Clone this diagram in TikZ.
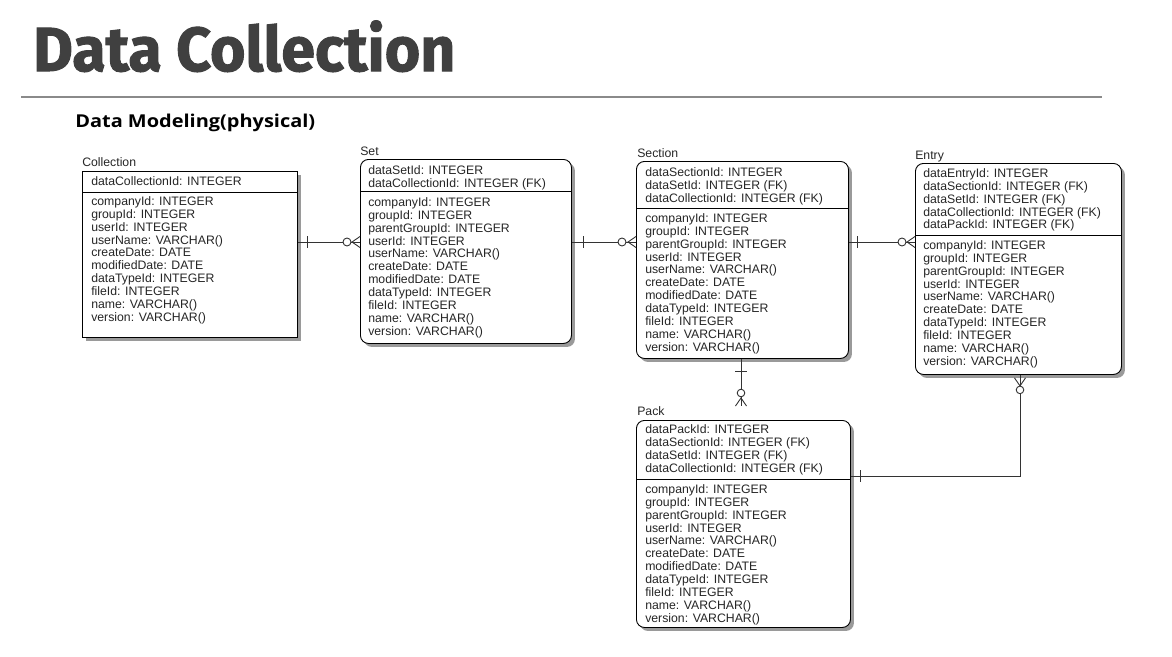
\documentclass[tikz,border=0pt]{standalone}
\usepackage{graphicx}
\usepackage{fontspec}
\setmainfont{Liberation Sans}
\newfontfamily\titlefont{Fira Sans}[BoldFeatures={FakeBold=1.6}]
\newfontfamily\subfont{Open Sans}
\usetikzlibrary{shadows,calc}
\newlength\pxu \setlength\pxu{0.75pt}
\definecolor{titlegray}{HTML}{404040}
\definecolor{rulegray}{HTML}{8A8A8A}
\definecolor{shadowgray}{HTML}{9A9A9A}
\tikzset{
  tbl/.style={draw=black, line width=0.9\pxu, fill=white, anchor=north west, inner sep=0pt,
    drop shadow={shadow xshift=3.5\pxu, shadow yshift=-3.5\pxu, fill=shadowgray, opacity=1}},
  rtbl/.style={tbl, rounded corners=8\pxu},
  row/.style={anchor=base west, inner sep=0pt, font=\fontsize{9.2}{9.7}\selectfont, text=black!85},
  conn/.style={line width=0.9\pxu, draw=black!80},
  sepline/.style={line width=0.9\pxu, draw=black},
}
\newcommand\rows[4]{\foreach \t [count=\i from 0] in {#4} \node[row] (#1-\i) at (#2,#3+12.85*\i) {\t};}
\begin{document}
\begin{tikzpicture}[x=0.75pt,y=-0.75pt]
\useasboundingbox (0,0) rectangle (1172,657);
% titles
\node[anchor=base west, inner sep=0pt, text=titlegray] (title) at (33,71)
  {\resizebox{422\pxu}{50.5\pxu}{\titlefont\bfseries Data Collection}};
\coordinate (rl) at (21,97);
\coordinate (rr) at (1102,97);
\draw[rulegray, line width=2\pxu] (rl) -- (rr);
\node[anchor=base west, inner sep=0pt, text=black] (sub) at (75,127.5)
  {\resizebox{240\pxu}{\height}{\subfont\bfseries\fontsize{13.3}{15}\selectfont Data Modeling(physical)}};

% Collection
\node[row] (lcoll) at (82,166) {Collection};
\node[tbl, minimum width=215\pxu, minimum height=166\pxu] (coll) at (82,171) {};
\draw[sepline] (coll.west |- 0,192) -- (coll.east |- 0,192);
\rows{ch}{91}{185.5}{dataCollectionId: INTEGER}
\rows{cb}{91}{205.5}{companyId: INTEGER,groupId: INTEGER,userId: INTEGER,userName: VARCHAR(),createDate: DATE,modifiedDate: DATE,dataTypeId: INTEGER,fileId: INTEGER,name: VARCHAR(),version: VARCHAR()}

% Set
\node[row] (lset) at (360,155) {Set};
\node[rtbl, minimum width=211\pxu, minimum height=184\pxu] (set) at (360,159) {};
\draw[sepline] (set.west |- 0,191) -- (set.east |- 0,191);
\rows{sh}{368}{174.5}{dataSetId: INTEGER,dataCollectionId: INTEGER (FK)}
\rows{sb}{368}{206.5}{companyId: INTEGER,groupId: INTEGER,parentGroupId: INTEGER,userId: INTEGER,userName: VARCHAR(),createDate: DATE,modifiedDate: DATE,dataTypeId: INTEGER,fileId: INTEGER,name: VARCHAR(),version: VARCHAR()}

% Section
\node[row] (lsec) at (637,157) {Section};
\node[rtbl, minimum width=212\pxu, minimum height=197\pxu] (sec) at (636,161) {};
\draw[sepline] (sec.west |- 0,208) -- (sec.east |- 0,208);
\rows{sch}{645}{176.5}{dataSectionId: INTEGER,dataSetId: INTEGER (FK),dataCollectionId: INTEGER (FK)}
\rows{scb}{645}{222.5}{companyId: INTEGER,groupId: INTEGER,parentGroupId: INTEGER,userId: INTEGER,userName: VARCHAR(),createDate: DATE,modifiedDate: DATE,dataTypeId: INTEGER,fileId: INTEGER,name: VARCHAR(),version: VARCHAR()}

% Entry
\node[row] (lent) at (915,159) {Entry};
\node[rtbl, minimum width=206\pxu, minimum height=211\pxu] (ent) at (915,163) {};
\draw[sepline] (ent.west |- 0,235) -- (ent.east |- 0,235);
\rows{eh}{923}{177.5}{dataEntryId: INTEGER,dataSectionId: INTEGER (FK),dataSetId: INTEGER (FK),dataCollectionId: INTEGER (FK),dataPackId: INTEGER (FK)}
\rows{eb}{923}{249.5}{companyId: INTEGER,groupId: INTEGER,parentGroupId: INTEGER,userId: INTEGER,userName: VARCHAR(),createDate: DATE,dataTypeId: INTEGER,fileId: INTEGER,name: VARCHAR(),version: VARCHAR()}

% Pack
\node[row] (lpack) at (637,415) {Pack};
\node[rtbl, minimum width=214\pxu, minimum height=207\pxu] (pack) at (636,420) {};
\draw[sepline] (pack.west |- 0,479) -- (pack.east |- 0,479);
\rows{ph}{645}{433.5}{dataPackId: INTEGER,dataSectionId: INTEGER (FK),dataSetId: INTEGER (FK),dataCollectionId: INTEGER (FK)}
\rows{pb}{645}{493.5}{companyId: INTEGER,groupId: INTEGER,parentGroupId: INTEGER,userId: INTEGER,userName: VARCHAR(),createDate: DATE,modifiedDate: DATE,dataTypeId: INTEGER,fileId: INTEGER,name: VARCHAR(),version: VARCHAR()}

% connectors
\coordinate (h242) at (0,242);
\coordinate (h476) at (0,476);
\coordinate (v741) at (741,0);
\coordinate (v1020) at (1020,0);

% Collection - Set
\coordinate (c1a) at (coll.east |- h242);
\coordinate (c1b) at (set.west |- h242);
\draw[conn] (c1a) -- (c1b);
\draw[conn] ($(c1a)+(10,-6)$) -- ($(c1a)+(10,6)$);
\draw[conn, fill=white] ($(c1b)+(-13,0)$) circle[radius=4\pxu];
\draw[conn] ($(c1b)+(0,-5.5)$) -- ($(c1b)+(-8,0)$) -- ($(c1b)+(0,5.5)$);

% Set - Section
\coordinate (c2a) at (set.east |- h242);
\coordinate (c2b) at (sec.west |- h242);
\draw[conn] (c2a) -- (c2b);
\draw[conn] ($(c2a)+(12,-6)$) -- ($(c2a)+(12,6)$);
\draw[conn, fill=white] ($(c2b)+(-14,0)$) circle[radius=4\pxu];
\draw[conn] ($(c2b)+(0,-5.5)$) -- ($(c2b)+(-8,0)$) -- ($(c2b)+(0,5.5)$);

% Section - Entry
\coordinate (c3a) at (sec.east |- h242);
\coordinate (c3b) at (ent.west |- h242);
\draw[conn] (c3a) -- (c3b);
\draw[conn] ($(c3a)+(9,-6)$) -- ($(c3a)+(9,6)$);
\draw[conn, fill=white] ($(c3b)+(-13,0)$) circle[radius=4\pxu];
\draw[conn] ($(c3b)+(0,-5.5)$) -- ($(c3b)+(-8,0)$) -- ($(c3b)+(0,5.5)$);

% Section - Pack
\coordinate (c4a) at (sec.south -| v741);
\coordinate (c4b) at (741,406);
\draw[conn] (c4a) -- (c4b);
\draw[conn] ($(c4a)+(-6,13)$) -- ($(c4a)+(6,13)$);
\draw[conn, fill=white] ($(c4b)+(0,-13)$) circle[radius=3.8\pxu];
\draw[conn] ($(c4b)+(-5.5,0)$) -- ($(c4b)+(0,-8)$) -- ($(c4b)+(5.5,0)$);

% Entry - Pack
\coordinate (c5a) at (ent.south -| v1020);
\coordinate (c5b) at (pack.east |- h476);
\draw[conn] (c5a) |- (c5b);
\draw[conn] ($(c5b)+(10,-6)$) -- ($(c5b)+(10,6)$);
\draw[conn] ($(c5a)+(-5.5,3)$) -- ($(c5a)+(0,11)$) -- ($(c5a)+(5.5,3)$);
\draw[conn, fill=white] ($(c5a)+(0,15)$) circle[radius=3.8\pxu];
\end{tikzpicture}
\end{document}
